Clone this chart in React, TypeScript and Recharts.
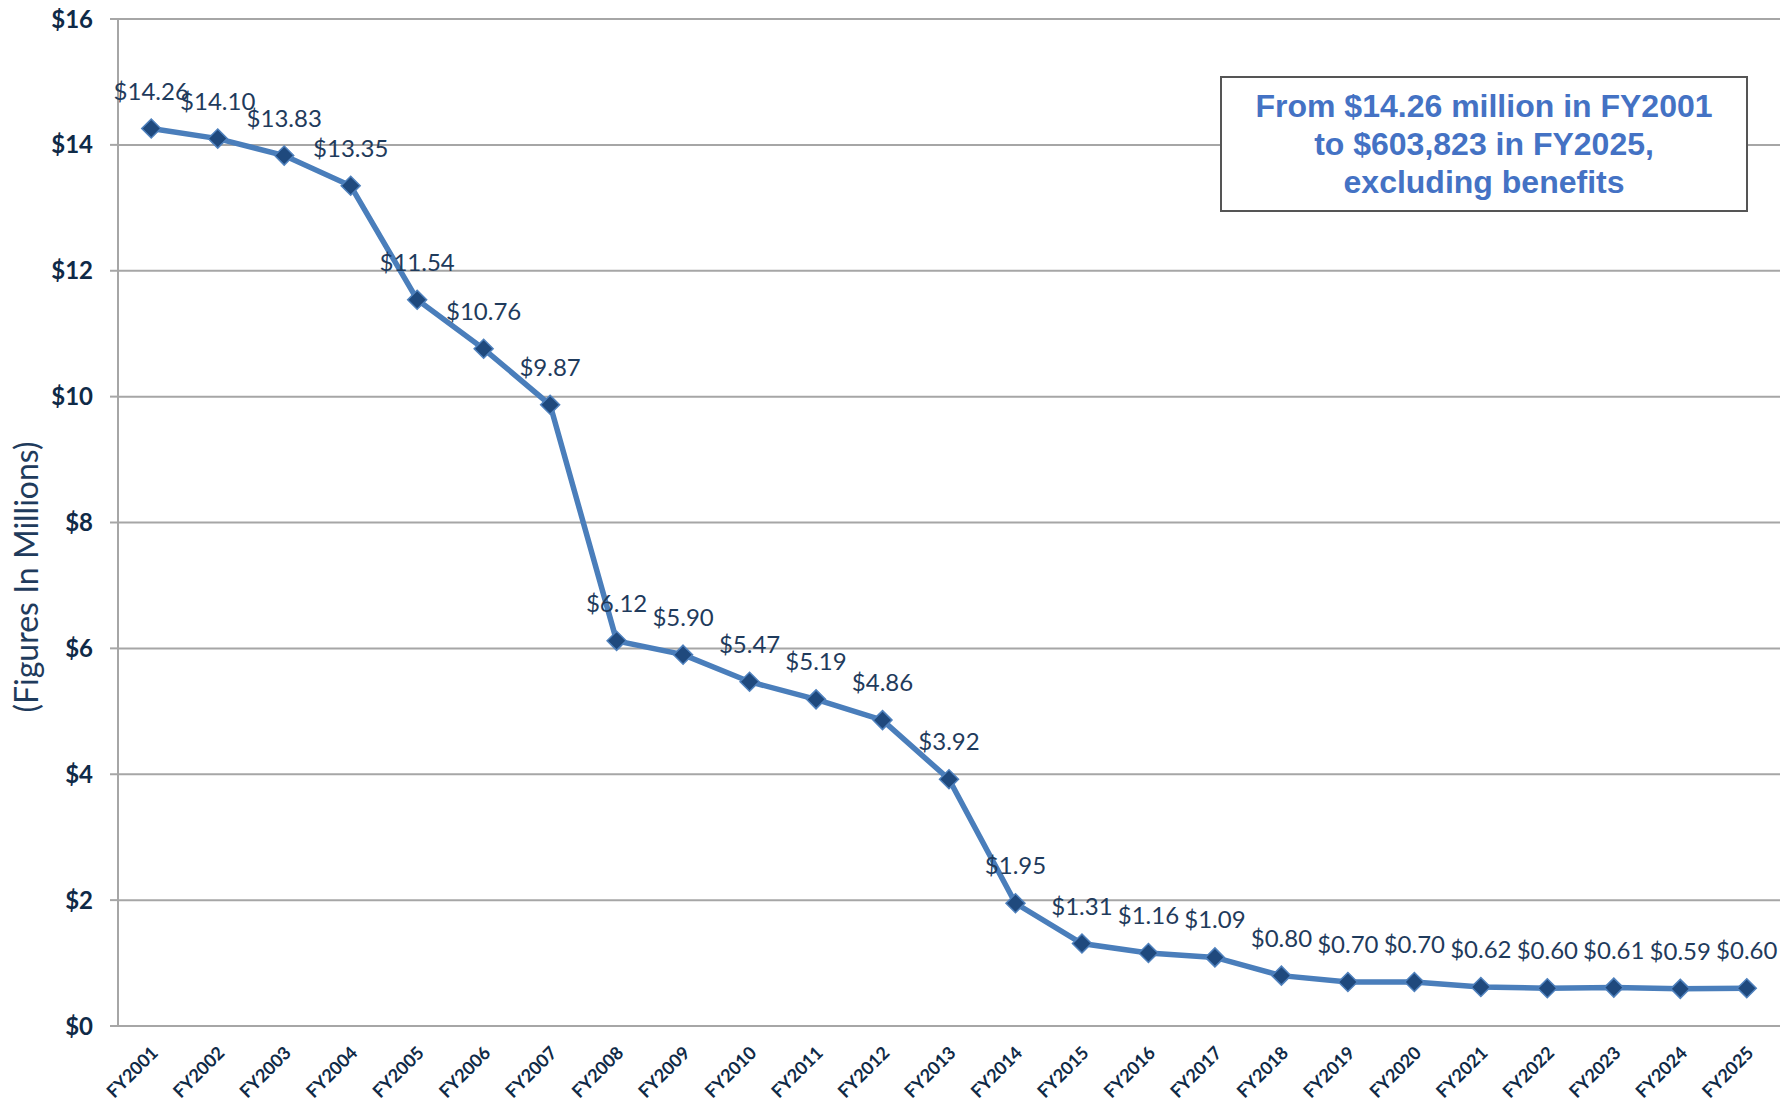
import React from "react";
import { LineChart, Line, XAxis, YAxis, CartesianGrid, LabelList } from "recharts";

const years = [
  "FY2001", "FY2002", "FY2003", "FY2004", "FY2005", "FY2006", "FY2007", "FY2008", "FY2009",
  "FY2010", "FY2011", "FY2012", "FY2013", "FY2014", "FY2015", "FY2016", "FY2017", "FY2018",
  "FY2019", "FY2020", "FY2021", "FY2022", "FY2023", "FY2024", "FY2025",
];
const salaries = [
  14.26, 14.1, 13.83, 13.35, 11.54, 10.76, 9.87, 6.12, 5.9, 5.47, 5.19, 4.86, 3.92, 1.95,
  1.31, 1.16, 1.09, 0.8, 0.7, 0.7, 0.62, 0.6, 0.61, 0.59, 0.6,
];
const yTicks = [0, 2, 4, 6, 8, 10, 12, 14, 16];

const data = years.map((fy, i) => ({ idx: i + 1, fy, value: salaries[i] }));
const centerTicks = years.map((_, i) => i + 1);
const edgeTicks = [...years.map((_, i) => i + 0.5), years.length + 0.5];

const NAVY = "#0f2a47";
const LABEL = "#1f3b5c";
const FONT = "Lato, 'Noto Sans', sans-serif";

const Diamond = (props: any) => {
  const { cx, cy } = props;
  if (cx == null || cy == null) return null;
  const r = 9.5;
  return (
    <polygon
      points={`${cx},${cy - r} ${cx + r},${cy} ${cx},${cy + r} ${cx - r},${cy}`}
      fill="#1f497d"
      stroke="#4f81bd"
      strokeWidth={1.5}
    />
  );
};

const FyTick = (props: any) => {
  const { x, y, payload } = props;
  const label = years[payload.value - 1] ?? "";
  const tx = x + 8;
  const ty = y + 20;
  return (
    <text
      x={tx}
      y={ty}
      transform={`rotate(-45 ${tx} ${ty})`}
      textAnchor="end"
      fill={NAVY}
      fontFamily={FONT}
      fontWeight={700}
      fontSize={18}
    >
      {label}
    </text>
  );
};

const YTitle = () => (
  <text
    x={25}
    y={577}
    transform="rotate(-90 25 577)"
    textAnchor="middle"
    dominantBaseline="central"
    fill={LABEL}
    fontFamily={FONT}
    fontSize={32}
  >
    (Figures In Millions)
  </text>
);

export default function App() {
  return (
    <div style={{ position: "relative", width: 1789, height: 1102, margin: "-8px 0 0 -8px" }}>
      <LineChart
        width={1789}
        height={1102}
        data={data}
        margin={{ top: 19, right: 9, left: 0, bottom: 0 }}
        style={{ overflow: "visible" }}
      >
        <CartesianGrid vertical={false} stroke="#a6a6a6" strokeWidth={2} />
        <XAxis
          xAxisId="edges"
          type="number"
          dataKey="idx"
          domain={[0.5, years.length + 0.5]}
          ticks={edgeTicks}
          tick={false}
          tickSize={7}
          tickLine={{ stroke: "#a6a6a6", strokeWidth: 2 }}
          axisLine={false}
          height={0}
          allowDataOverflow
        />
        <XAxis
          xAxisId="main"
          type="number"
          dataKey="idx"
          domain={[0.5, years.length + 0.5]}
          ticks={centerTicks}
          interval={0}
          tick={<FyTick />}
          tickLine={false}
          axisLine={{ stroke: "#a6a6a6", strokeWidth: 2 }}
          height={76}
          allowDataOverflow
        />
        <YAxis
          domain={[0, 16]}
          ticks={yTicks}
          width={118}
          tickSize={8}
          tickMargin={17}
          tickFormatter={(v: number) => `$${v}`}
          tick={{ fill: NAVY, fontFamily: FONT, fontWeight: 700, fontSize: 24 }}
          tickLine={{ stroke: "#a6a6a6", strokeWidth: 2 }}
          axisLine={{ stroke: "#a6a6a6", strokeWidth: 2 }}
          label={{ content: () => <YTitle /> }}
        />
        <Line
          xAxisId="main"
          dataKey="value"
          stroke="#4a7ebb"
          strokeWidth={5.5}
          dot={<Diamond />}
          activeDot={false}
          isAnimationActive={false}
        >
          <LabelList
            dataKey="value"
            position="top"
            offset={29}
            formatter={(v: any) => `$${Number(v).toFixed(2)}`}
            style={{ fill: LABEL, fontFamily: FONT, fontSize: 24 }}
          />
        </Line>
      </LineChart>
      <div
        style={{
          position: "absolute",
          left: 1220,
          top: 76,
          width: 524,
          height: 132,
          border: "2px solid #555",
          background: "#fff",
          color: "#4472c4",
          fontFamily: "'Liberation Sans', Arial, sans-serif",
          fontWeight: 700,
          fontSize: 32,
          lineHeight: "38px",
          textAlign: "center",
          display: "flex",
          flexDirection: "column",
          justifyContent: "center",
        }}
      >
        <div>From $14.26 million in FY2001</div>
        <div>to $603,823 in FY2025,</div>
        <div>excluding benefits</div>
      </div>
    </div>
  );
}
